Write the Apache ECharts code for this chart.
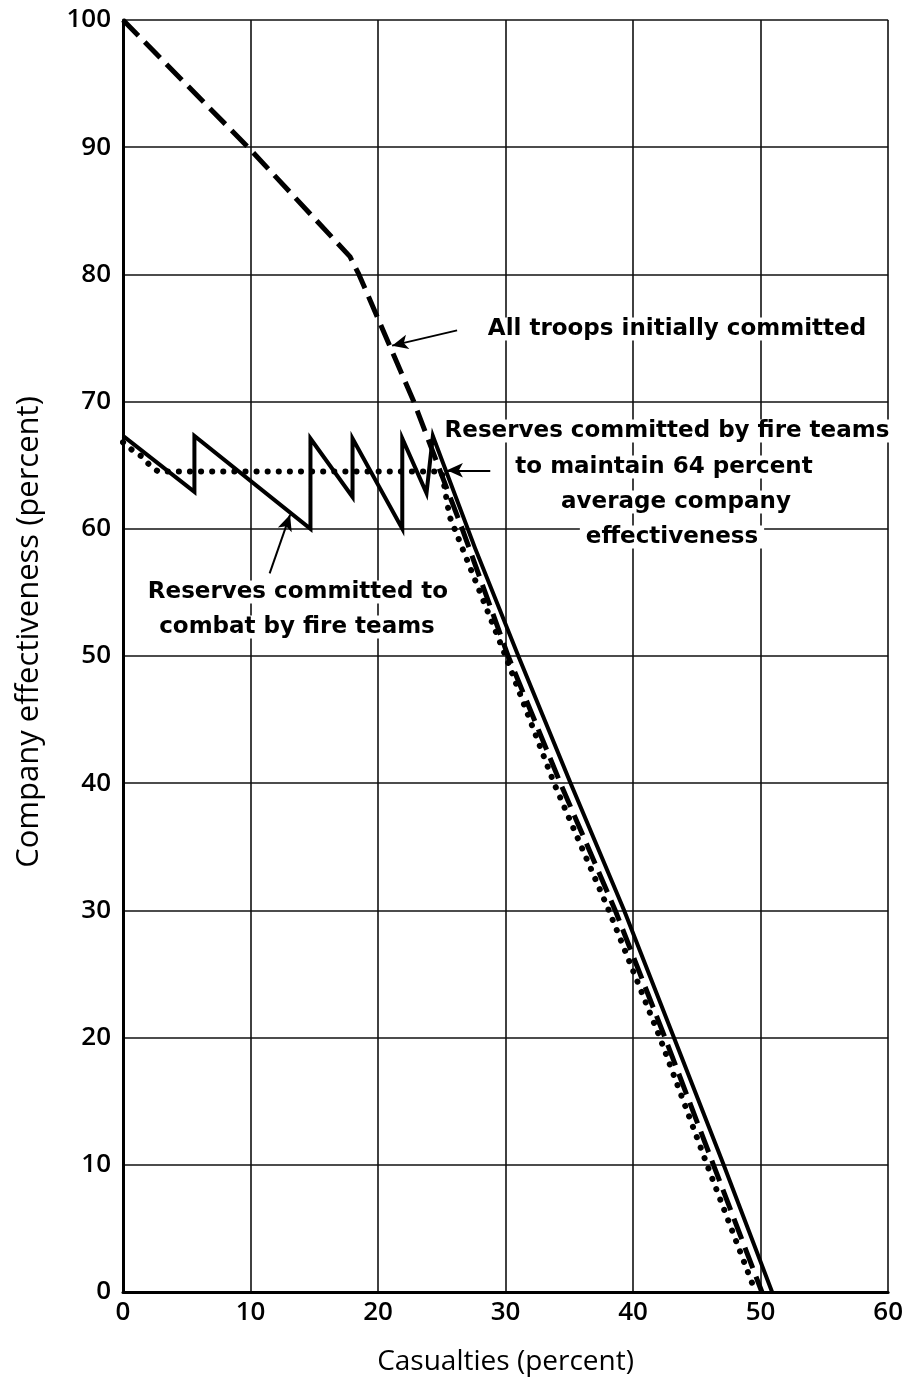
<!DOCTYPE html>
<html>
<head>
<meta charset="utf-8">
<script src="https://cdn.jsdelivr.net/npm/echarts@6/dist/echarts.min.js"></script>
<style>
  html, body { margin: 0; padding: 0; background: #fff; }
  #chart { width: 906px; height: 1386px; }
</style>
</head>
<body>
<div id="chart"></div>
<script>
// axis ticks
var xTicks = [0, 10, 20, 30, 40, 50, 60];
var yTicks = [0, 10, 20, 30, 40, 50, 60, 70, 80, 90, 100];

// All troops initially committed (dashed)
var allTroopsX = [0, 10, 17.8, 18.5, 22.8, 26.6, 30.2, 34.3, 38.6, 42.5, 46.3, 50.1];
var allTroopsY = [100, 89.8, 81.4, 80, 70, 60, 50, 40, 30, 20, 10, 0];

// Reserves committed to combat by fire teams (solid saw-tooth)
var fireTeamsX = [0, 5.6, 5.6, 14.7, 14.7, 18, 18, 21.9, 21.9, 23.8, 24.3, 27.6, 31, 35.1, 39.3, 43.2, 47.1, 50.9];
var fireTeamsY = [67.3, 62.9, 67.3, 60, 67.1, 62.5, 67.1, 60, 67.1, 62.8, 67.3, 58.5, 50, 40, 30, 20, 10, 0];

// Reserves committed to maintain 64 percent average (dotted)
var averageX = [0, 0.7, 1.45, 2.1, 2.75, 25, 25.6, 30, 33.8, 38.1, 42.1, 45.8, 49.6];
var averageY = [66.8, 66.2, 65.7, 65.0, 64.5, 64.5, 61, 50, 40, 30, 20, 10, 0];

// annotation arrows, [from, to] in data coordinates
var arrowAllTroops = [[26.2, 75.6], [21.1, 74.4]];
var arrowAverage = [[28.8, 64.6], [25.4, 64.6]];
var arrowFireTeams = [[11.5, 56.5], [13.1, 61.1]];

function pairs(xs, ys) {
  return xs.map(function (x, i) { return [x, ys[i]]; });
}

function arrow(a) {
  return {
    silent: true,
    symbol: ["none", "arrow"],
    symbolSize: [11, 16],
    label: { show: false },
    lineStyle: { type: "solid", width: 2, color: "#000" },
    data: [[{ coord: a[0] }, { coord: a[1] }]],
  };
}

var chart = echarts.init(document.getElementById("chart"));
var axisFont = "'Open Sans', 'DejaVu Sans', sans-serif";
var noteFont = "'DejaVu Sans', sans-serif";
var annot = { fontFamily: noteFont, fontSize: 23, fontWeight: "bold", fill: "#000", textAlign: "center", textVerticalAlign: "middle", backgroundColor: "#fff", padding: [0, 6] };

var option = {
  animation: false,
  backgroundColor: "#fff",
  grid: { left: 123, right: 15, top: 20, bottom: 94 },
  xAxis: {
    type: "value",
    min: 0,
    max: 60,
    interval: 10,
    name: "Casualties (percent)",
    nameLocation: "middle",
    nameGap: 56,
    nameTextStyle: { fontFamily: axisFont, fontSize: 28, fontWeight: 500, color: "#000" },
    axisLine: { show: true, lineStyle: { color: "#000", width: 3 } },
    axisTick: { show: false },
    axisLabel: { margin: 8, fontFamily: axisFont, fontSize: 26, fontWeight: 600, color: "#000",
      formatter: function (v) { return xTicks.indexOf(v) >= 0 ? String(v) : ""; } },
    splitLine: { show: true, lineStyle: { color: "#111", width: 1.6 } },
  },
  yAxis: {
    type: "value",
    min: 0,
    max: 100,
    interval: 10,
    name: "Company effectiveness (percent)",
    nameLocation: "middle",
    nameGap: 78,
    nameRotate: 90,
    nameTextStyle: { fontFamily: axisFont, fontSize: 31, fontWeight: 500, color: "#000", padding: [0, 0, 0, 48] },
    axisLine: { show: true, lineStyle: { color: "#000", width: 3 } },
    axisTick: { show: false },
    axisLabel: { margin: 12, fontFamily: axisFont, fontSize: 26, fontWeight: 600, color: "#000",
      formatter: function (v) { return yTicks.indexOf(v) >= 0 ? String(v) : ""; } },
    splitLine: { show: true, lineStyle: { color: "#111", width: 1.6 } },
  },
  series: [
    {
      name: "All troops initially committed",
      type: "line",
      data: pairs(allTroopsX, allTroopsY),
      showSymbol: false,
      lineStyle: { color: "#000", width: 5, type: [22, 9] },
      z: 3,
      markLine: arrow(arrowAllTroops),
    },
    {
      name: "Reserves committed to combat by fire teams",
      type: "line",
      data: pairs(fireTeamsX, fireTeamsY),
      showSymbol: false,
      lineStyle: { color: "#000", width: 4, join: "miter" },
      z: 4,
      markLine: arrow(arrowFireTeams),
    },
    {
      name: "Reserves committed by fire teams to maintain 64 percent average company effectiveness",
      type: "line",
      data: pairs(averageX, averageY),
      showSymbol: false,
      lineStyle: { color: "#000", width: 6, type: [0.1, 11], cap: "round" },
      z: 3,
      markLine: arrow(arrowAverage),
    },
  ],
  graphic: [
    { type: "text", x: 677, y: 329, z: 1, style: Object.assign({}, annot, { text: "All troops initially committed" }) },
    { type: "text", x: 667, y: 431, z: 1, style: Object.assign({}, annot, { text: "Reserves committed by fire teams", padding: [0, 2] }) },
    { type: "text", x: 664, y: 467, z: 1, style: Object.assign({}, annot, { text: "to maintain 64 percent" }) },
    { type: "text", x: 676, y: 502, z: 1, style: Object.assign({}, annot, { text: "average company" }) },
    { type: "text", x: 672, y: 537, z: 1, style: Object.assign({}, annot, { text: "effectiveness" }) },
    { type: "text", x: 298, y: 592, z: 1, style: Object.assign({}, annot, { text: "Reserves committed to" }) },
    { type: "text", x: 297, y: 627, z: 1, style: Object.assign({}, annot, { text: "combat by fire teams" }) },
  ],
};
chart.setOption(option);
</script>
</body>
</html>
